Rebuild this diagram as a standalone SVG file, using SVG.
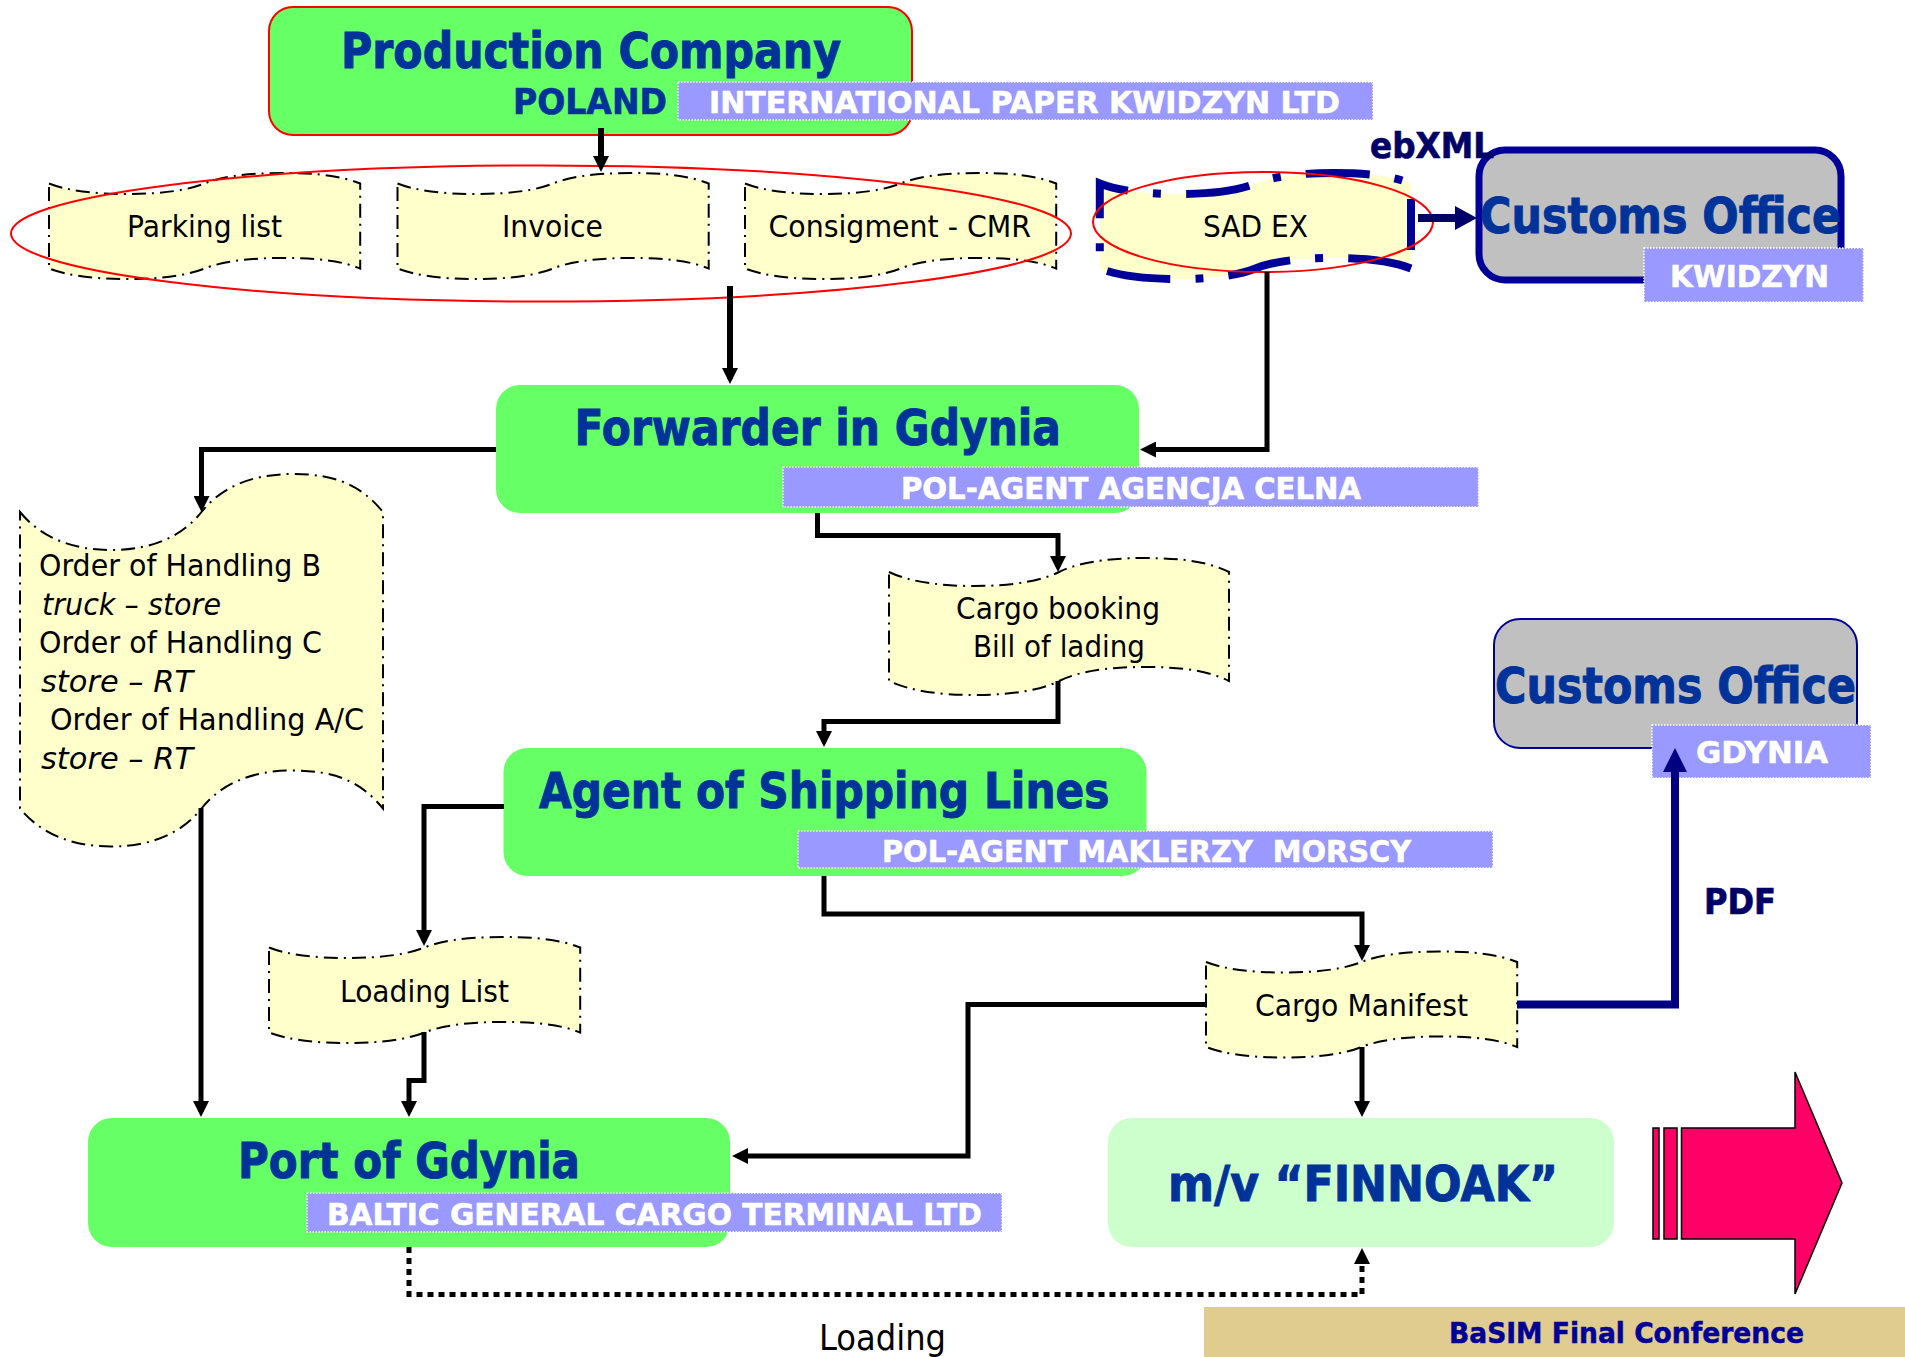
<svg xmlns="http://www.w3.org/2000/svg" width="1905" height="1357" viewBox="0 0 1905 1357">
<style>
text{font-family:"DejaVu Sans","Liberation Sans",sans-serif;white-space:pre}
.box{fill:#66ff66}
.h{font-size:49px;font-weight:bold;fill:#003399;stroke:#003399;stroke-width:1}
.lab{fill:#9999ff;stroke:#fff;stroke-width:1.5;stroke-dasharray:1.5 1.5}
.lt{font-size:30px;font-weight:bold;fill:#fff;stroke:#fff;stroke-width:.6}
.doc{fill:#ffffcc;stroke:#000;stroke-width:2;stroke-dasharray:14 6 2 6}
.d{font-size:30px;fill:#000}
.i{font-style:italic}
.x{font-size:36px;font-weight:bold;fill:#000066;stroke:#000066;stroke-width:.7}
.el{fill:none;stroke:#ff0000;stroke-width:2}
.c{fill:none;stroke:#000;stroke-width:5;marker-end:url(#ah)}
.w{stroke-width:6}
.cust{fill:#c0c0c0;stroke:#000099}
</style>
<defs>
<marker id="ah" markerUnits="userSpaceOnUse" markerWidth="16" markerHeight="16" refX="11" refY="8" orient="auto"><path d="M0,0L16,8L0,16z" fill="#000"/></marker>
<marker id="an" markerUnits="userSpaceOnUse" markerWidth="24" markerHeight="24" refX="16" refY="12" orient="auto"><path d="M0,0L24,12L0,24z" fill="#000080"/></marker>
<marker id="ad" markerUnits="userSpaceOnUse" markerWidth="22" markerHeight="24" refX="14" refY="12" orient="auto"><path d="M0,0L22,12L0,24z" fill="#000066"/></marker>
</defs>

<g id="production-company">
<rect x="269" y="7" width="643" height="128" rx="24" fill="#66ff66" stroke="#ff0000" stroke-width="2"/>
<text class="h" x="341" y="68" textLength="500" lengthAdjust="spacingAndGlyphs">Production Company</text>
<text class="x" style="fill:#003399;stroke:#003399" x="513" y="114" textLength="154" lengthAdjust="spacingAndGlyphs">POLAND</text>
<rect class="lab" x="678" y="82" width="695" height="38"/>
<text class="lt" x="709" y="113" textLength="631" lengthAdjust="spacingAndGlyphs">INTERNATIONAL PAPER KWIDZYN LTD</text>
</g>

<g id="doc-parking-list">
<path class="doc" d="M49,183.500c18.700,7.400 46.700,10.500 77.800,10.500c37.300,0 62.200,-4.200 77.800,-10.500c15.600,-6.300 40.400,-10.500 77.800,-10.500c37.300,0 59.100,3.200 77.800,10.500V268.500c-18.700,-7.400 -40.400,-10.500 -77.800,-10.500c-37.300,0 -62.200,4.200 -77.800,10.500c-15.600,6.300 -40.400,10.500 -77.800,10.500c-31.100,0 -59.100,-3.200 -77.800,-10.500Z"/>
<text class="d" x="127" y="237" textLength="155" lengthAdjust="spacingAndGlyphs">Parking list</text>
</g>
<g id="doc-invoice">
<path class="doc" d="M397.500,183.500c18.700,7.400 46.700,10.500 77.800,10.500c37.300,0 62.200,-4.200 77.800,-10.500c15.600,-6.300 40.400,-10.500 77.800,-10.500c37.300,0 59.100,3.200 77.800,10.500V268.500c-18.700,-7.400 -40.400,-10.500 -77.800,-10.500c-37.300,0 -62.200,4.200 -77.800,10.500c-15.600,6.300 -40.400,10.500 -77.800,10.500c-31.100,0 -59.100,-3.200 -77.800,-10.500Z"/>
<text class="d" x="502" y="237" textLength="101" lengthAdjust="spacingAndGlyphs">Invoice</text>
</g>
<g id="doc-consignment">
<path class="doc" d="M745,183.500c18.700,7.400 46.700,10.500 77.800,10.500c37.300,0 62.200,-4.200 77.800,-10.500c15.600,-6.300 40.400,-10.500 77.800,-10.500c37.300,0 59.100,3.200 77.800,10.500V268.500c-18.700,-7.400 -40.400,-10.500 -77.800,-10.500c-37.300,0 -62.200,4.200 -77.800,10.500c-15.600,6.300 -40.400,10.500 -77.800,10.500c-31.100,0 -59.100,-3.200 -77.800,-10.500Z"/>
<text class="d" x="768.500" y="237" textLength="262.500" lengthAdjust="spacingAndGlyphs">Consigment - CMR</text>
</g>
<g id="doc-sad-ex">
<path fill="#ffffcc" d="M1100,183.500c18.700,7.400 46.700,10.500 77.800,10.500c37.300,0 62.200,-4.200 77.800,-10.500c15.600,-6.300 40.400,-10.500 77.800,-10.500c37.300,0 59.100,3.200 77.800,10.500V268.500c-18.700,-7.400 -40.400,-10.500 -77.800,-10.500c-37.300,0 -62.200,4.200 -77.800,10.500c-15.600,6.300 -40.400,10.500 -77.800,10.500c-31.100,0 -59.100,-3.200 -77.800,-10.500Z"/>
<path fill="none" stroke="#000099" stroke-width="8" stroke-miterlimit="10" stroke-dasharray="64 25 8 25" d="M1411,268.500c-18.700,-7.400 -40.400,-10.500 -77.800,-10.500c-37.300,0 -62.200,4.200 -77.800,10.500c-15.600,6.300 -40.400,10.500 -77.800,10.500c-31.100,0 -59.100,-3.200 -77.800,-10.500V183.500c18.700,7.400 46.700,10.500 77.800,10.500c37.300,0 62.200,-4.200 77.800,-10.500c15.600,-6.300 40.400,-10.500 77.800,-10.500c37.300,0 59.100,3.200 77.800,10.500V250"/>
<text class="d" x="1203" y="237" textLength="105" lengthAdjust="spacingAndGlyphs">SAD EX</text>
</g>

<g id="customs-kwidzyn">
<rect class="cust" x="1479" y="150" width="362" height="130" rx="26" stroke-width="7"/>
<text class="h" x="1480" y="232.500" textLength="361" lengthAdjust="spacingAndGlyphs">Customs Office</text>
<rect class="lab" x="1644" y="248" width="219.500" height="54"/>
<text class="lt" x="1670" y="287" textLength="159" lengthAdjust="spacingAndGlyphs">KWIDZYN</text>
</g>
<g id="label-ebxml"><text class="x" x="1370" y="158" textLength="124" lengthAdjust="spacingAndGlyphs">ebXML</text></g>

<g id="forwarder">
<rect class="box" x="496" y="385" width="643" height="128" rx="24"/>
<text class="h" x="574.500" y="445" textLength="486.500" lengthAdjust="spacingAndGlyphs">Forwarder in Gdynia</text>
<rect class="lab" x="783" y="467" width="695.500" height="40"/>
<text class="lt" x="901" y="499" textLength="460" lengthAdjust="spacingAndGlyphs">POL-AGENT AGENCJA CELNA</text>
</g>

<g id="doc-orders">
<path class="doc" d="M20,512c21.800,26.600 54.500,38 90.750,38c43.600,0 72.600,-15.200 90.750,-38c18.200,-22.800 47.200,-38 90.750,-38c43.600,0 69,11.400 90.750,38V808.500c-21.800,-26.600 -47.200,-38 -90.750,-38c-43.600,0 -72.600,15.200 -90.750,38c-18.200,22.800 -47.200,38 -90.750,38c-36.300,0 -69,-11.400 -90.750,-38Z"/>
<text class="d" x="39" y="576" textLength="282" lengthAdjust="spacingAndGlyphs">Order of Handling B</text>
<text class="d i" x="42" y="615" textLength="179" lengthAdjust="spacingAndGlyphs">truck – store</text>
<text class="d" x="39" y="653" textLength="283" lengthAdjust="spacingAndGlyphs">Order of Handling C</text>
<text class="d i" x="41" y="692" textLength="152" lengthAdjust="spacingAndGlyphs">store – RT</text>
<text class="d" x="50" y="730" textLength="314" lengthAdjust="spacingAndGlyphs">Order of Handling A/C</text>
<text class="d i" x="41" y="769" textLength="152" lengthAdjust="spacingAndGlyphs">store – RT</text>
</g>

<g id="doc-cargo-booking">
<path class="doc" d="M889,572c20.400,9.800 51,14 85,14c40.800,0 68,-5.600 85,-14c17,-8.400 44.200,-14 85,-14c40.800,0 64.600,4.200 85,14V681c-20.400,-9.800 -44.200,-14 -85,-14c-40.800,0 -68,5.600 -85,14c-17,8.400 -44.200,14 -85,14c-34,0 -64.600,-4.200 -85,-14Z"/>
<text class="d" x="956" y="619" textLength="204" lengthAdjust="spacingAndGlyphs">Cargo booking</text>
<text class="d" x="973" y="657" textLength="172" lengthAdjust="spacingAndGlyphs">Bill of lading</text>
</g>

<g id="agent">
<rect class="box" x="503.500" y="748" width="643" height="128" rx="24"/>
<text class="h" x="539" y="808" textLength="570.500" lengthAdjust="spacingAndGlyphs">Agent of Shipping Lines</text>
<rect class="lab" x="798" y="831" width="695" height="37"/>
<text class="lt" x="882" y="861.500" textLength="529" lengthAdjust="spacingAndGlyphs">POL-AGENT MAKLERZY  MORSCY</text>
</g>

<g id="customs-gdynia">
<rect class="cust" x="1494" y="619" width="363" height="129" rx="26" stroke-width="2"/>
<text class="h" x="1495" y="702.500" textLength="361" lengthAdjust="spacingAndGlyphs">Customs Office</text>
<rect class="lab" x="1652" y="725" width="219" height="53"/>
<text class="lt" x="1696" y="763" textLength="132" lengthAdjust="spacingAndGlyphs">GDYNIA</text>
</g>
<g id="label-pdf"><text class="x" x="1704" y="914" textLength="72" lengthAdjust="spacingAndGlyphs">PDF</text></g>

<g id="doc-loading-list">
<path class="doc" d="M269,947.500c18.700,7.400 46.700,10.500 77.800,10.500c37.300,0 62.200,-4.200 77.800,-10.500c15.600,-6.300 40.400,-10.500 77.800,-10.500c37.300,0 59.100,3.200 77.800,10.500V1032.500c-18.700,-7.400 -40.400,-10.500 -77.800,-10.500c-37.300,0 -62.200,4.200 -77.800,10.500c-15.600,6.300 -40.400,10.500 -77.800,10.500c-31.100,0 -59.100,-3.200 -77.800,-10.500Z"/>
<text class="d" x="340" y="1002" textLength="169" lengthAdjust="spacingAndGlyphs">Loading List</text>
</g>
<g id="doc-cargo-manifest">
<path class="doc" d="M1206,962c18.700,7.400 46.700,10.500 77.800,10.500c37.300,0 62.200,-4.200 77.800,-10.500c15.600,-6.300 40.400,-10.500 77.800,-10.500c37.300,0 59.100,3.200 77.800,10.500V1047c-18.700,-7.400 -40.400,-10.500 -77.800,-10.500c-37.300,0 -62.200,4.200 -77.800,10.500c-15.600,6.300 -40.400,10.500 -77.800,10.500c-31.100,0 -59.100,-3.200 -77.800,-10.500Z"/>
<text class="d" x="1255" y="1015.500" textLength="213" lengthAdjust="spacingAndGlyphs">Cargo Manifest</text>
</g>

<g id="port">
<rect class="box" x="88" y="1118" width="642" height="129" rx="24"/>
<text class="h" x="238" y="1178" textLength="342" lengthAdjust="spacingAndGlyphs">Port of Gdynia</text>
<rect class="lab" x="307" y="1193" width="695" height="39"/>
<text class="lt" x="327" y="1225" textLength="655" lengthAdjust="spacingAndGlyphs">BALTIC GENERAL CARGO TERMINAL LTD</text>
</g>

<g id="vessel">
<rect x="1108" y="1118" width="506" height="129" rx="24" fill="#ccffcc"/>
<text class="h" x="1168" y="1201" textLength="390" lengthAdjust="spacingAndGlyphs">m/v “FINNOAK”</text>
</g>

<g id="big-arrow" fill="#ff0066" stroke="#000" stroke-width="1.500">
<rect x="1653" y="1128" width="6" height="111"/>
<rect x="1664" y="1128" width="13" height="111"/>
<path d="M1681.500,1128H1795V1072L1842,1183L1795,1294V1239H1681.500Z"/>
</g>

<g id="footer">
<rect x="1204" y="1307" width="701" height="50" fill="#e0cc8f"/>
<text x="1449" y="1343" font-size="27.500" font-weight="bold" fill="#000099" stroke="#000099" stroke-width=".5" textLength="355" lengthAdjust="spacingAndGlyphs">BaSIM Final Conference</text>
</g>
<g id="label-loading"><text x="819" y="1350" font-size="35" fill="#000" textLength="127" lengthAdjust="spacingAndGlyphs">Loading</text></g>

<g id="groups">
<ellipse class="el" cx="541" cy="233.500" rx="530" ry="68"/>
<ellipse class="el" cx="1263" cy="222" rx="170" ry="50"/>
</g>

<g id="connectors">
<path class="c w" d="M601,128V167"/>
<path class="c w" d="M730,286V379"/>
<path class="c" d="M1267,272V449.500H1145"/>
<path class="c" d="M496,449.500H201.500V507"/>
<path class="c" d="M201,808V1112"/>
<path class="c" d="M817.500,513V535.500H1058V567"/>
<path class="c" d="M1058,681V721.500H824V742"/>
<path class="c" d="M504,806.500H424V941"/>
<path class="c" d="M424,1032V1080.500H409V1112"/>
<path class="c" d="M824,876V914H1362V956"/>
<path class="c" d="M1206,1004.500H968V1156H737"/>
<path class="c" d="M1362,1047V1112"/>
<path class="c" d="M409,1247V1294.500H1362V1253" stroke-dasharray="6 5"/>
<path d="M1418,218H1469" fill="none" stroke="#000066" stroke-width="8" marker-end="url(#ad)"/>
<path d="M1517,1004.500H1675V756" fill="none" stroke="#000080" stroke-width="8" marker-end="url(#an)"/>
</g>
</svg>
